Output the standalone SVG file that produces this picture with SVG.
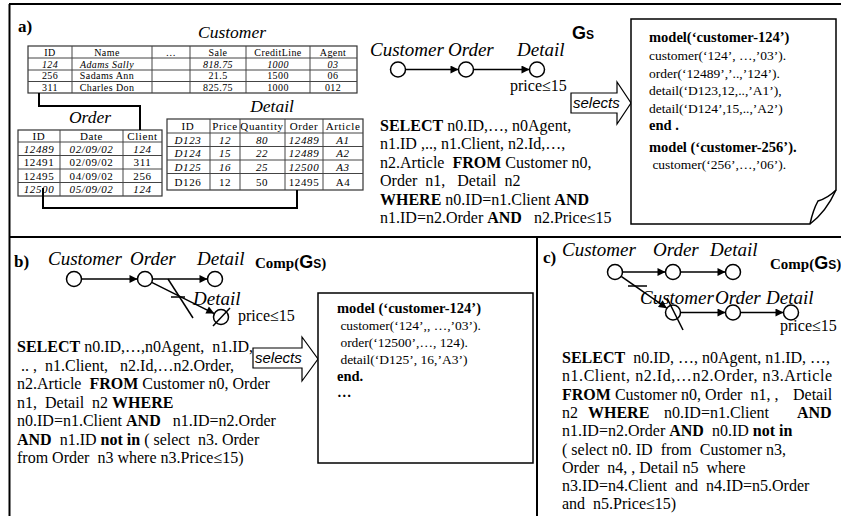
<svg xmlns="http://www.w3.org/2000/svg" width="841" height="516" viewBox="0 0 841 516">
<style>
text{font-family:"Liberation Serif",serif;fill:#000;white-space:pre}
.lbl{font-style:italic;font-size:19px}
.ttl{font-style:italic;font-size:17.5px;text-anchor:middle}
.sql{font-size:16px}
.mdl{font-size:13.5px}
.mb{font-size:14.5px;font-weight:bold}
.b{font-weight:bold}
.pl{font-weight:bold;font-size:17px}
.tc{font-size:10px;text-anchor:middle;letter-spacing:0.4px}
.to{font-size:11px;text-anchor:middle;letter-spacing:0.6px}
.it{font-style:italic}
.gs{font-family:"Liberation Sans",Arial,sans-serif;font-weight:bold}
.sel{font-family:"Liberation Sans",Arial,sans-serif;font-style:italic;font-size:15px}
.frame{stroke:#000;stroke-width:2;fill:none}
.tbl{fill:#fff;stroke:#333;stroke-width:1.2}
.grid{stroke:#444;stroke-width:1;fill:none}
.nd{fill:#fff;stroke:#000;stroke-width:1.5}
.edge{stroke:#000;stroke-width:1.5;fill:none}
.link{stroke:#000;stroke-width:2;fill:none}
.box{fill:#fff;stroke:#000;stroke-width:1.5}
.arr{fill:#fff;stroke:#000;stroke-width:1.2}
</style>
<defs>
<marker id="ah" viewBox="0 0 10 10" refX="10" refY="5" markerWidth="10" markerHeight="8" markerUnits="userSpaceOnUse" orient="auto"><path d="M0,0 L10,5 L0,10 z" fill="#000"/></marker>
</defs>

<g id="frame">
<path class="frame" d="M9.5,4 V516 M9,4 H841 M9,237 H841 M537,237 V516"/>
</g>

<!-- Panel a -->
<text class="pl" x="18" y="32">a)</text>

<g id="customer-table">
<text class="ttl" x="232" y="38">Customer</text>
<rect class="tbl" x="28" y="46" width="329" height="47"/>
<path class="grid" d="M28,58 H357 M28,70 H357 M28,81.5 H357 M72,46 V93 M152,46 V93 M190,46 V93 M246,46 V93 M310,46 V93"/>
<g class="tc">
<text x="50" y="55.5">ID</text><text x="107" y="55.5">Name</text><text x="171" y="55.5">…</text><text x="218" y="55.5">Sale</text><text x="278" y="55.5">CreditLine</text><text x="333" y="55.5">Agent</text>
<text class="it" x="50" y="67.5">124</text><text class="it" x="107" y="67.5">Adams Sally</text><text class="it" x="218" y="67.5">818.75</text><text class="it" x="278" y="67.5">1000</text><text class="it" x="333" y="67.5">03</text>
<text x="50" y="79">256</text><text x="107" y="79">Sadams Ann</text><text x="218" y="79">21.5</text><text x="278" y="79">1500</text><text x="333" y="79">06</text>
<text x="50" y="90.5">311</text><text x="107" y="90.5">Charles Don</text><text x="218" y="90.5">825.75</text><text x="278" y="90.5">1000</text><text x="333" y="90.5">012</text>
</g>
</g>

<g id="order-table">
<text class="ttl" x="90" y="123">Order</text>
<rect class="tbl" x="18" y="130" width="144" height="66"/>
<path class="grid" d="M18,142 H162 M18,155.5 H162 M18,169 H162 M18,182.5 H162 M60,130 V196 M123,130 V196"/>
<g class="to">
<text x="39" y="139.5">ID</text><text x="91.5" y="139.5">Date</text><text x="142.5" y="139.5">Client</text>
<text class="it" x="39" y="152.5">12489</text><text class="it" x="91.5" y="152.5">02/09/02</text><text class="it" x="142.5" y="152.5">124</text>
<text x="39" y="166">12491</text><text x="91.5" y="166">02/09/02</text><text x="142.5" y="166">311</text>
<text x="39" y="179.5">12495</text><text x="91.5" y="179.5">04/09/02</text><text x="142.5" y="179.5">256</text>
<text class="it" x="39" y="193">12500</text><text class="it" x="91.5" y="193">05/09/02</text><text class="it" x="142.5" y="193">124</text>
</g>
</g>

<g id="detail-table">
<text class="ttl" x="272" y="112">Detail</text>
<rect class="tbl" x="167" y="119" width="196" height="71"/>
<path class="grid" d="M167,133 H363 M167,146.5 H363 M167,160 H363 M167,173.5 H363 M210,119 V190 M240,119 V190 M285,119 V190 M323,119 V190"/>
<g class="to">
<text x="188" y="130">ID</text><text x="225" y="130">Price</text><text x="262" y="130">Quantity</text><text x="304" y="130">Order</text><text x="343" y="130">Article</text>
<text class="it" x="188" y="143.5">D123</text><text class="it" x="225" y="143.5">12</text><text class="it" x="262" y="143.5">80</text><text class="it" x="304" y="143.5">12489</text><text class="it" x="343" y="143.5">A1</text>
<text class="it" x="188" y="157">D124</text><text class="it" x="225" y="157">15</text><text class="it" x="262" y="157">22</text><text class="it" x="304" y="157">12489</text><text class="it" x="343" y="157">A2</text>
<text class="it" x="188" y="170.5">D125</text><text class="it" x="225" y="170.5">16</text><text class="it" x="262" y="170.5">25</text><text class="it" x="304" y="170.5">12500</text><text class="it" x="343" y="170.5">A3</text>
<text x="188" y="185.5">D126</text><text x="225" y="185.5">12</text><text x="262" y="185.5">50</text><text x="304" y="185.5">12495</text><text x="343" y="185.5">A4</text>
</g>
</g>

<g id="connectors">
<path class="link" d="M39,93 V106 H140 V130"/>
<path class="link" d="M43,188 V208 H297 V190"/>
<!-- graph a -->
<line class="edge" x1="405.5" y1="69.5" x2="458.5" y2="69.5" marker-end="url(#ah)"/>
<line class="edge" x1="473.5" y1="69.5" x2="529.5" y2="69.5" marker-end="url(#ah)"/>
<!-- graph b -->
<line class="edge" x1="81.5" y1="279" x2="137.5" y2="279" marker-end="url(#ah)"/>
<line class="edge" x1="152.5" y1="279" x2="207.5" y2="279" marker-end="url(#ah)"/>
<line class="edge" x1="151.7" y1="282.4" x2="214.3" y2="313.6" marker-end="url(#ah)"/>
<line class="edge" x1="168" y1="279" x2="193" y2="318"/>
<line class="edge" x1="171" y1="297" x2="185" y2="297"/>
<!-- graph c -->
<line class="edge" x1="622.5" y1="272" x2="665.5" y2="272" marker-end="url(#ah)"/>
<line class="edge" x1="680.5" y1="272" x2="725.5" y2="272" marker-end="url(#ah)"/>
<line class="edge" x1="621.2" y1="276.3" x2="666.8" y2="308.2" marker-end="url(#ah)"/>
<line class="edge" x1="628" y1="286" x2="647" y2="286"/>
<line class="edge" x1="680.5" y1="312.5" x2="725.5" y2="312.5" marker-end="url(#ah)"/>
<line class="edge" x1="740.5" y1="312.5" x2="783.5" y2="312.5" marker-end="url(#ah)"/>
</g>

<g id="a-customer"><text class="lbl" x="370" y="56">Customer</text><circle class="nd" cx="398" cy="69.5" r="7.5"/></g>
<g id="a-order"><text class="lbl" x="448" y="56">Order</text><circle class="nd" cx="466" cy="69.5" r="7.5"/></g>
<g id="a-detail"><text class="lbl" x="517" y="56">Detail</text><circle class="nd" cx="537" cy="69.5" r="7.5"/><text class="sql" x="510" y="91">price≤15</text></g>
<g id="a-gs"><text class="gs" x="572" y="39" font-size="18">G<tspan font-size="12">S</tspan></text></g>

<g id="a-selects">
<path class="arr" d="M571,93 H617 V82 L631,103 L617,124 V113 H571 Z"/>
<text class="sel" x="573" y="108">selects</text>
</g>

<g id="a-sql">
<text class="sql" x="380" y="131"><tspan class="b">SELECT</tspan> n0.ID,…, n0Agent,</text>
<text class="sql" x="380" y="149.4">n1.ID ,.., n1.Client, n2.Id,…,</text>
<text class="sql" x="380" y="167.8">n2.Article  <tspan class="b">FROM</tspan> Customer n0,</text>
<text class="sql" x="380" y="186.2">Order  n1,   Detail  n2</text>
<text class="sql" x="380" y="204.6"><tspan class="b">WHERE</tspan> n0.ID=n1.Client <tspan class="b">AND</tspan></text>
<text class="sql" x="380" y="223">n1.ID=n2.Order <tspan class="b">AND</tspan>   n2.Price≤15</text>
</g>

<g id="a-model">
<path class="box" d="M631,19 H836 V190 Q826,212 810,224 H631 Z"/>
<path class="edge" d="M810,224 Q813,210 818,201 Q828,198 836,190"/>
<text class="mb" x="649" y="42">model(‘customer-124’)</text>
<text class="mdl" x="649" y="60">customer(‘124’, …,’03’).</text>
<text class="mdl" x="649" y="77.5">order(‘12489’,’..,’124’).</text>
<text class="mdl" x="649" y="95">detail(‘D123,12,..,’A1’),</text>
<text class="mdl" x="649" y="112.5">detail(‘D124’,15,..,’A2’)</text>
<text class="mb" x="649" y="130">end .</text>
<text class="mb" x="649" y="152">model (‘customer-256’).</text>
<text class="mdl" x="649" y="169"> customer(‘256’,…,’06’).</text>
</g>

<!-- Panel b -->
<text class="pl" x="14" y="267">b)</text>
<g id="b-customer"><text class="lbl" x="48" y="265">Customer</text><circle class="nd" cx="74" cy="279" r="7.5"/></g>
<g id="b-order"><text class="lbl" x="130" y="265">Order</text><circle class="nd" cx="145" cy="279" r="7.5"/></g>
<g id="b-detail"><text class="lbl" x="197" y="265">Detail</text><circle class="nd" cx="215" cy="279" r="7.5"/></g>
<g id="b-detail2"><text class="lbl" x="193" y="305">Detail</text><circle class="nd" cx="221" cy="317" r="7.5"/><line class="edge" x1="213" y1="326" x2="230" y2="308"/><text class="sql" x="238" y="321">price≤15</text></g>
<g id="b-comp"><text class="b" font-size="15" x="255" y="268">Comp(<tspan class="gs" font-size="18">G</tspan><tspan class="gs" font-size="12">S</tspan>)</text></g>

<g id="b-sql">
<text class="sql" x="17" y="352"><tspan class="b">SELECT</tspan> n0.ID,…,n0Agent,  n1.ID,</text>
<text class="sql" x="17" y="370.5"> .. ,  n1.Client,   n2.Id,…n2.Order,</text>
<text class="sql" x="17" y="389">n2.Article  <tspan class="b">FROM</tspan> Customer n0, Order</text>
<text class="sql" x="17" y="407.5">n1,  Detail  n2 <tspan class="b">WHERE</tspan></text>
<text class="sql" x="17" y="426">n0.ID=n1.Client <tspan class="b">AND</tspan>   n1.ID=n2.Order</text>
<text class="sql" x="17" y="444.5"><tspan class="b">AND</tspan>  n1.ID <tspan class="b">not in</tspan> ( select  n3. Order</text>
<text class="sql" x="17" y="463">from Order  n3 where n3.Price≤15)</text>
</g>

<g id="b-selects">
<path class="arr" d="M253,348 H302 V337 L318,359 L302,381 V368 H253 Z"/>
<text class="sel" x="255" y="363">selects</text>
</g>

<g id="b-model">
<rect class="box" x="318" y="293" width="215" height="170"/>
<text class="mb" x="337" y="313">model (‘customer-124’)</text>
<text class="mdl" x="337" y="330"> customer(‘124’,, …,’03’).</text>
<text class="mdl" x="337" y="347"> order(‘12500’,…, 124).</text>
<text class="mdl" x="337" y="364"> detail(‘D125’, 16,’A3’)</text>
<text class="mb" x="337" y="381">end.</text>
<text class="mb" x="337" y="397">…</text>
</g>

<!-- Panel c -->
<text class="pl" x="543" y="263">c)</text>
<g id="c-customer"><text class="lbl" x="562" y="256">Customer</text><circle class="nd" cx="615" cy="272" r="7.5"/></g>
<g id="c-order"><text class="lbl" x="653" y="256">Order</text><circle class="nd" cx="673" cy="272" r="7.5"/></g>
<g id="c-detail"><text class="lbl" x="710" y="256">Detail</text><circle class="nd" cx="733" cy="272" r="7.5"/></g>
<g id="c-comp"><text class="b" font-size="15" x="770" y="269">Comp(<tspan class="gs" font-size="18">G</tspan><tspan class="gs" font-size="12">S</tspan>)</text></g>
<g id="c-customer2"><text class="lbl" x="640" y="304">Customer</text><circle class="nd" cx="673" cy="312.5" r="7.5"/><line class="edge" x1="667" y1="298" x2="683" y2="330"/></g>
<g id="c-order2"><text class="lbl" x="715" y="304">Order</text><circle class="nd" cx="733" cy="312.5" r="7.5"/></g>
<g id="c-detail2"><text class="lbl" x="766" y="304">Detail</text><circle class="nd" cx="791" cy="312.5" r="7.5"/><text class="sql" x="780" y="331">price≤15</text></g>

<g id="c-sql">
<text class="sql" x="562" y="363"><tspan class="b">SELECT</tspan>  n0.ID, …, n0Agent, n1.ID, …,</text>
<text class="sql" x="562" y="381.3" textLength="270" lengthAdjust="spacing">n1.Client, n2.Id,…n2.Order, n3.Article</text>
<text class="sql" x="562" y="399.6"><tspan class="b">FROM</tspan> Customer n0, Order  n1, , <tspan x="793">Detail</tspan></text>
<text class="sql" y="417.9"><tspan x="562">n2</tspan><tspan class="b" x="588">WHERE</tspan><tspan x="664">n0.ID=n1.Client</tspan><tspan class="b" x="797">AND</tspan></text>
<text class="sql" x="562" y="436.2">n1.ID=n2.Order <tspan class="b">AND</tspan>  n0.ID <tspan class="b">not in</tspan></text>
<text class="sql" x="562" y="454.5">( select n0. ID  from  Customer n3,</text>
<text class="sql" x="562" y="472.8">Order  n4, , Detail n5  where</text>
<text class="sql" x="562" y="491.1">n3.ID=n4.Client  and  n4.ID=n5.Order</text>
<text class="sql" x="562" y="509.4">and  n5.Price≤15)</text>
</g>
</svg>
